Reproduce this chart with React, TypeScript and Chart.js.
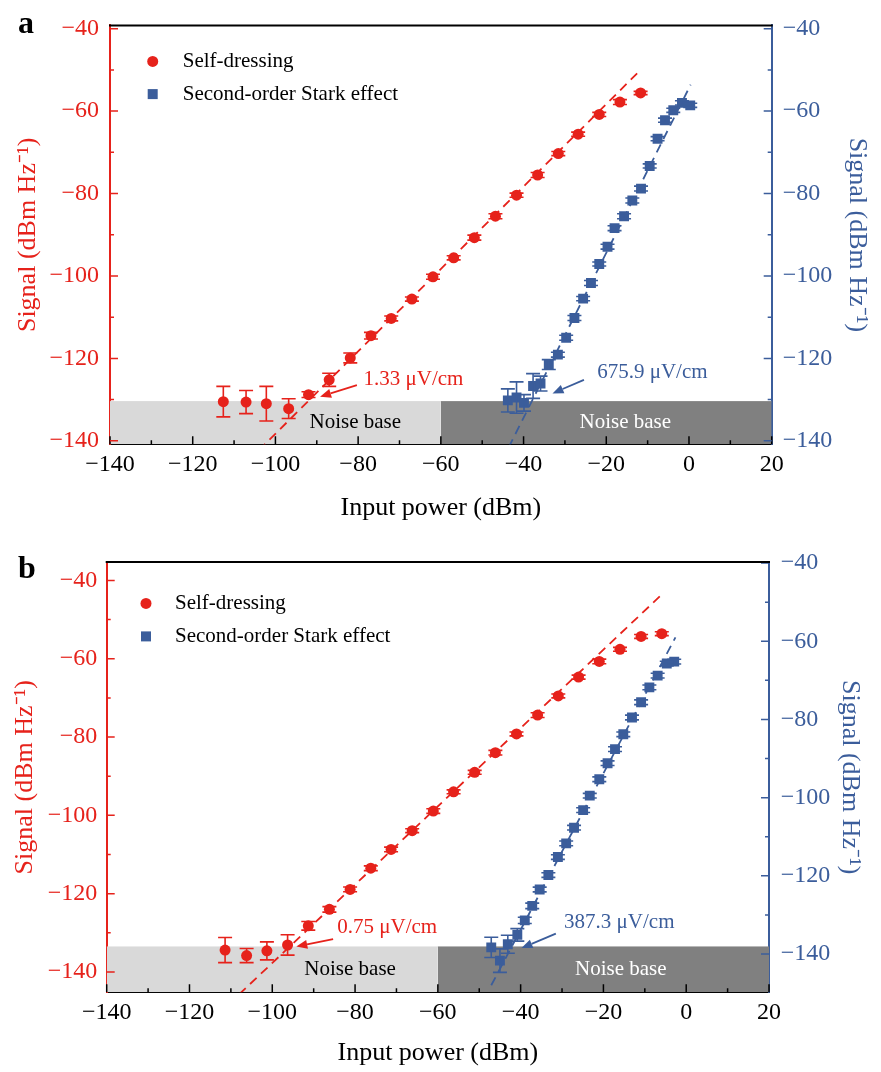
import { useEffect, useRef } from "react";
import { Chart, registerables } from "chart.js";

Chart.register(...registerables);

const RED = "#e6221b";
const BLUE = "#3b5d9b";
const LIGHT = "#d9d9d9";
const DARK = "#808080";
const SERIF = "'Liberation Serif', 'Times New Roman', Times, serif";

const SERIES_NAMES = ["Self-dressing", "Second-order Stark effect"];
const X_TITLE = "Input power (dBm)";
const Y_TITLE = "Signal (dBm Hz\u207B\u00B9)";
const NOISE_LABEL = "Noise base";

const X_TICKS = [-140, -120, -100, -80, -60, -40, -20, 0, 20];
const X_MINOR = [-130, -110, -90, -70, -50, -30, -10, 10];
const Y_TICKS = [-140, -120, -100, -80, -60, -40];
const Y_MINOR = [-130, -110, -90, -70, -50];
const NOISE_EDGES = [-140, -60, 20];

// ---------- Panel a ----------
const A_SELF_X = [-112.6, -107.1, -102.2, -96.8, -92.0, -87.0, -81.9, -76.9, -72.0, -67.0, -61.9, -56.9, -51.9, -46.8, -41.7, -36.6, -31.6, -26.8, -21.7, -16.7, -11.7];
const A_SELF_Y = [-130.5, -130.6, -131.0, -132.2, -128.8, -125.2, -119.9, -114.5, -110.3, -105.6, -100.2, -95.6, -90.7, -85.5, -80.4, -75.5, -70.3, -65.6, -60.8, -57.8, -55.6];
const A_SELF_ERR = [3.7, 2.8, 4.2, 2.4, 0.7, 1.6, 1.2, 0.8, 0.6, 0.5, 0.6, 0.5, 0.6, 0.6, 0.5, 0.6, 0.5, 0.5, 0.5, 0.6, 0.4];
const A_STARK_X = [-43.8, -41.7, -39.9, -37.7, -35.9, -33.9, -31.7, -29.7, -27.7, -25.6, -23.7, -21.7, -19.7, -18.0, -15.7, -13.7, -11.6, -9.5, -7.6, -5.8, -3.8, -1.7, 0.3];
const A_STARK_Y = [-130.2, -129.5, -130.8, -126.7, -126.1, -121.5, -119.1, -115.0, -110.2, -105.5, -101.7, -97.1, -92.9, -88.4, -85.5, -81.7, -78.8, -73.3, -66.7, -62.2, -59.8, -58.0, -58.6];
const A_STARK_ERR = [2.8, 3.8, 2.0, 3.0, 1.8, 1.2, 0.6, 0.6, 0.6, 0.5, 0.6, 0.5, 0.6, 0.6, 0.6, 0.6, 0.6, 0.5, 0.5, 0.5, 0.5, 0.5, 0.5];
const A_SELF_FIT_X = [-104.0, -11.7];
const A_SELF_FIT_Y = [-142.3, -50.0];
const A_STARK_FIT_X = [-43.6, 0.4];
const A_STARK_FIT_Y = [-141.6, -53.6];
const A_NOISE = -130.5;

// ---------- Panel b ----------
const B_SELF_X = [-111.4, -106.2, -101.3, -96.3, -91.3, -86.2, -81.2, -76.2, -71.3, -66.2, -61.1, -56.2, -51.1, -46.1, -41.0, -35.9, -30.9, -26.0, -21.0, -16.0, -10.9, -5.9];
const B_SELF_Y = [-134.4, -135.8, -134.6, -133.1, -128.2, -124.0, -118.9, -113.5, -108.7, -103.9, -98.9, -94.0, -89.0, -84.0, -79.2, -74.4, -69.5, -64.7, -60.7, -57.6, -54.3, -53.6];
const B_SELF_ERR = [3.2, 1.8, 2.3, 2.6, 1.1, 0.7, 0.6, 0.6, 0.6, 0.5, 0.6, 0.5, 0.5, 0.6, 0.5, 0.6, 0.5, 0.5, 0.6, 0.5, 0.5, 0.5];
const B_STARK_X = [-47.1, -45.0, -43.1, -40.8, -39.0, -37.2, -35.4, -33.3, -31.0, -29.0, -27.1, -24.9, -23.3, -21.0, -19.0, -17.2, -15.2, -13.1, -10.9, -8.9, -6.9, -4.7, -2.9];
const B_STARK_Y = [-138.3, -141.7, -137.5, -135.1, -131.4, -127.7, -123.5, -119.8, -115.2, -111.7, -107.7, -103.2, -99.5, -95.3, -91.2, -87.6, -83.8, -79.5, -75.6, -71.8, -68.8, -65.7, -65.2];
const B_STARK_ERR = [2.6, 3.0, 2.3, 1.6, 0.8, 0.7, 0.6, 0.6, 0.6, 0.6, 0.6, 0.6, 0.6, 0.6, 0.6, 0.6, 0.6, 0.6, 0.6, 0.6, 0.6, 0.6, 0.6];
const B_SELF_FIT_X = [-108.0, -5.9];
const B_SELF_FIT_Y = [-145.7, -43.6];
const B_STARK_FIT_X = [-47.1, -2.6];
const B_STARK_FIT_Y = [-148.0, -59.0];
const B_NOISE = -133.6;

type Note = { text: string; color: string; tx: number; ty: number; ax: number; ay: number; hx: number; hy: number };

type Panel = {
  letter: string;
  height: number;
  top: number; leftW: number; rightW: number; bottomH: number;
  yLeft: [number, number]; yRight: [number, number];
  selfX: number[]; selfY: number[]; selfErr: number[];
  starkX: number[]; starkY: number[]; starkErr: number[];
  selfFitX: number[]; selfFitY: number[]; starkFitX: number[]; starkFitY: number[];
  noise: number; noiseTextX: [number, number];
  legendDX: number; legendDY: number; legendGap: number; legendTextDX: number;
  leftTitlePad: number; rightTitlePad: number; xTitlePad: number;
  leftTickPad: number; rightTickPad: number; xTickPad: number;
  letterX: number; letterY: number;
  notes: Note[];
};

const PANELS: Panel[] = [
  {
    letter: "a", height: 536,
    top: 17.3, leftW: 110, rightW: 109.3, bottomH: 91.7,
    yLeft: [-140.85, -39.2], yRight: [-140.85, -39.2],
    selfX: A_SELF_X, selfY: A_SELF_Y, selfErr: A_SELF_ERR,
    starkX: A_STARK_X, starkY: A_STARK_Y, starkErr: A_STARK_ERR,
    selfFitX: A_SELF_FIT_X, selfFitY: A_SELF_FIT_Y, starkFitX: A_STARK_FIT_X, starkFitY: A_STARK_FIT_Y,
    noise: A_NOISE, noiseTextX: [-80.7, -15.4],
    legendDX: 42.7, legendDY: 36, legendGap: 32.7, legendTextDX: 30,
    leftTitlePad: 12.4, rightTitlePad: 8.7, xTitlePad: 12.4,
    leftTickPad: 11, rightTickPad: 11, xTickPad: 6.3,
    letterX: 26, letterY: 25,
    notes: [
      { text: "1.33 \u03BCV/cm", color: RED, tx: -78.7, ty: -125.2, ax: -80.3, ay: -126.5, hx: -89.2, hy: -129.3 },
      { text: "675.9 \u03BCV/cm", color: BLUE, tx: -22.2, ty: -123.5, ax: -25.4, ay: -125.2, hx: -33.0, hy: -128.5 },
    ],
  },
  {
    letter: "b", height: 536,
    top: 25.7, leftW: 106.7, rightW: 112, bottomH: 79.7,
    yLeft: [-145.18, -35.33], yRight: [-149.8, -39.75],
    selfX: B_SELF_X, selfY: B_SELF_Y, selfErr: B_SELF_ERR,
    starkX: B_STARK_X, starkY: B_STARK_Y, starkErr: B_STARK_ERR,
    selfFitX: B_SELF_FIT_X, selfFitY: B_SELF_FIT_Y, starkFitX: B_STARK_FIT_X, starkFitY: B_STARK_FIT_Y,
    noise: B_NOISE, noiseTextX: [-81.2, -15.8],
    legendDX: 39.3, legendDY: 41.3, legendGap: 33, legendTextDX: 29,
    leftTitlePad: 9.4, rightTitlePad: 15.4, xTitlePad: 3.4,
    leftTickPad: 9.4, rightTickPad: 11.7, xTickPad: 6.3,
    letterX: 27, letterY: 34,
    notes: [
      { text: "0.75 \u03BCV/cm", color: RED, tx: -84.3, ty: -128.7, ax: -85.3, ay: -131.6, hx: -94.2, hy: -133.5 },
      { text: "387.3 \u03BCV/cm", color: BLUE, tx: -29.5, ty: -127.4, ax: -31.5, ay: -130.2, hx: -39.8, hy: -133.9 },
    ],
  },
];

const fmt = (v: number) => (v < 0 ? "\u2212" + Math.abs(v) : String(v));
const pts = (xs: number[], ys: number[]) => xs.map((x, i) => ({ x, y: ys[i] }));

function makeChart(canvas: HTMLCanvasElement, p: Panel) {
  const deco = {
    id: "deco",
    afterDatasetsDraw(chart: any) {
      const ctx = chart.ctx as CanvasRenderingContext2D;
      const xs = chart.scales.x;
      const drawErr = (X: number[], Y: number[], E: number[], axisId: string, color: string) => {
        const ys = chart.scales[axisId];
        ctx.save();
        ctx.strokeStyle = color;
        ctx.lineWidth = 1.6;
        for (let i = 0; i < X.length; i++) {
          const px = xs.getPixelForValue(X[i]);
          const p1 = ys.getPixelForValue(Y[i] - E[i]);
          const p2 = ys.getPixelForValue(Y[i] + E[i]);
          ctx.beginPath();
          ctx.moveTo(px, p1); ctx.lineTo(px, p2);
          ctx.moveTo(px - 7, p1); ctx.lineTo(px + 7, p1);
          ctx.moveTo(px - 7, p2); ctx.lineTo(px + 7, p2);
          ctx.stroke();
        }
        ctx.restore();
      };
      drawErr(p.selfX, p.selfY, p.selfErr, "y", RED);
      drawErr(p.starkX, p.starkY, p.starkErr, "y2", BLUE);
    },
    afterDraw(chart: any) {
      const ctx = chart.ctx as CanvasRenderingContext2D;
      const { left, right, top, bottom } = chart.chartArea;
      const xs = chart.scales.x;
      const yl = chart.scales.y;
      const yr = chart.scales.y2;
      ctx.save();
      // Noise base labels
      const ny = (yl.getPixelForValue(p.noise) + bottom) / 2;
      ctx.font = `21px ${SERIF}`;
      ctx.textAlign = "center";
      ctx.textBaseline = "middle";
      ctx.fillStyle = "#000";
      ctx.fillText(NOISE_LABEL, xs.getPixelForValue(p.noiseTextX[0]), ny);
      ctx.fillStyle = "#fff";
      ctx.fillText(NOISE_LABEL, xs.getPixelForValue(p.noiseTextX[1]), ny);

      // Inward ticks
      ctx.lineWidth = 1.5;
      ctx.strokeStyle = "#000";
      ctx.beginPath();
      X_TICKS.forEach((v) => { const x = xs.getPixelForValue(v); ctx.moveTo(x, bottom); ctx.lineTo(x, bottom - 8); });
      X_MINOR.forEach((v) => { const x = xs.getPixelForValue(v); ctx.moveTo(x, bottom); ctx.lineTo(x, bottom - 4); });
      ctx.stroke();
      const inRange = (s: any, v: number) => v >= s.min && v <= s.max;
      ctx.strokeStyle = RED;
      ctx.beginPath();
      Y_TICKS.filter((v) => inRange(yl, v)).forEach((v) => { const y = yl.getPixelForValue(v); ctx.moveTo(left, y); ctx.lineTo(left + 8, y); });
      Y_MINOR.filter((v) => inRange(yl, v)).forEach((v) => { const y = yl.getPixelForValue(v); ctx.moveTo(left, y); ctx.lineTo(left + 4, y); });
      ctx.stroke();
      ctx.strokeStyle = BLUE;
      ctx.beginPath();
      Y_TICKS.filter((v) => inRange(yr, v)).forEach((v) => { const y = yr.getPixelForValue(v); ctx.moveTo(right, y); ctx.lineTo(right - 8, y); });
      Y_MINOR.filter((v) => inRange(yr, v)).forEach((v) => { const y = yr.getPixelForValue(v); ctx.moveTo(right, y); ctx.lineTo(right - 4, y); });
      ctx.stroke();

      // Top frame
      ctx.strokeStyle = "#000";
      ctx.lineWidth = 2;
      ctx.beginPath();
      ctx.moveTo(left - 1, top);
      ctx.lineTo(right + 1, top);
      ctx.stroke();

      // Legend
      const lx = left + p.legendDX;
      const ly = top + p.legendDY;
      ctx.fillStyle = RED;
      ctx.beginPath();
      ctx.arc(lx, ly, 5.5, 0, Math.PI * 2);
      ctx.fill();
      ctx.fillStyle = BLUE;
      ctx.fillRect(lx - 5, ly + p.legendGap - 5, 10, 10);
      ctx.fillStyle = "#000";
      ctx.font = `21px ${SERIF}`;
      ctx.textAlign = "left";
      ctx.textBaseline = "middle";
      ctx.fillText(SERIES_NAMES[0], lx + p.legendTextDX, ly);
      ctx.fillText(SERIES_NAMES[1], lx + p.legendTextDX, ly + p.legendGap);

      // Annotations with arrows
      p.notes.forEach((n) => {
        ctx.fillStyle = n.color;
        ctx.strokeStyle = n.color;
        ctx.font = `21px ${SERIF}`;
        ctx.textAlign = "left";
        ctx.textBaseline = "middle";
        ctx.fillText(n.text, xs.getPixelForValue(n.tx), yl.getPixelForValue(n.ty));
        const x1 = xs.getPixelForValue(n.ax), y1 = yl.getPixelForValue(n.ay);
        const x2 = xs.getPixelForValue(n.hx), y2 = yl.getPixelForValue(n.hy);
        const ang = Math.atan2(y2 - y1, x2 - x1);
        const hl = 11, hw = 4.5;
        const bx = x2 - hl * Math.cos(ang), by = y2 - hl * Math.sin(ang);
        ctx.lineWidth = 1.8;
        ctx.beginPath();
        ctx.moveTo(x1, y1);
        ctx.lineTo(bx, by);
        ctx.stroke();
        ctx.beginPath();
        ctx.moveTo(x2, y2);
        ctx.lineTo(bx + hw * Math.sin(ang), by - hw * Math.cos(ang));
        ctx.lineTo(bx - hw * Math.sin(ang), by + hw * Math.cos(ang));
        ctx.closePath();
        ctx.fill();
      });

      // Panel letter
      ctx.fillStyle = "#000";
      ctx.font = `bold 32px ${SERIF}`;
      ctx.textAlign = "center";
      ctx.textBaseline = "middle";
      ctx.fillText(p.letter, p.letterX, p.letterY);
      ctx.restore();
    },
  };

  const tickFont = { family: SERIF, size: 24, lineHeight: 1.2 };
  const titleFont = { family: SERIF, size: 26, lineHeight: 1.2 };

  return new Chart(canvas, {
    type: "line",
    data: {
      datasets: [
        {
          label: SERIES_NAMES[0], data: pts(p.selfX, p.selfY), yAxisID: "y",
          showLine: false, pointStyle: "circle", pointRadius: 5.5, pointBorderWidth: 0,
          backgroundColor: RED, borderColor: RED, order: 0,
        },
        {
          label: SERIES_NAMES[1], data: pts(p.starkX, p.starkY), yAxisID: "y2",
          showLine: false, pointStyle: "rect", pointRadius: 7, pointBorderWidth: 0,
          backgroundColor: BLUE, borderColor: BLUE, order: 0,
        },
        {
          label: "fit-self", data: pts(p.selfFitX, p.selfFitY), yAxisID: "y",
          borderColor: RED, borderWidth: 1.8, borderDash: [9, 6], pointRadius: 0, fill: false, order: 2,
        },
        {
          label: "fit-stark", data: pts(p.starkFitX, p.starkFitY), yAxisID: "y2",
          borderColor: BLUE, borderWidth: 1.8, borderDash: [9, 6], pointRadius: 0, fill: false, order: 2,
        },
        {
          label: "noise-light", data: pts(NOISE_EDGES.slice(0, 2), [p.noise, p.noise]), yAxisID: "y",
          borderColor: LIGHT, backgroundColor: LIGHT, borderWidth: 1, pointRadius: 0, fill: "start", order: 5,
        },
        {
          label: "noise-dark", data: pts(NOISE_EDGES.slice(1, 3), [p.noise, p.noise]), yAxisID: "y",
          borderColor: DARK, backgroundColor: DARK, borderWidth: 1, pointRadius: 0, fill: "start", order: 5,
        },
      ],
    },
    options: {
      animation: false,
      responsive: false,
      devicePixelRatio: 1,
      events: [],
      layout: { padding: { top: p.top, left: 0, right: 0, bottom: 0 } },
      plugins: { legend: { display: false }, tooltip: { enabled: false } },
      scales: {
        x: {
          type: "linear", position: "bottom", min: -140, max: 20, z: 1,
          afterBuildTicks: (s: any) => { s.ticks = X_TICKS.map((v) => ({ value: v })); },
          afterFit: (s: any) => { s.height = p.bottomH; },
          grid: { display: false, drawTicks: false },
          border: { display: true, color: "#000", width: 2 },
          ticks: { color: "#000", font: tickFont, padding: p.xTickPad, maxRotation: 0, autoSkip: false, callback: (v: any) => fmt(Number(v)) },
          title: { display: true, text: X_TITLE, color: "#000", font: titleFont, padding: { top: 0, bottom: p.xTitlePad } },
        },
        y: {
          type: "linear", position: "left", min: p.yLeft[0], max: p.yLeft[1], z: 1,
          afterBuildTicks: (s: any) => { s.ticks = Y_TICKS.map((v) => ({ value: v })); },
          afterFit: (s: any) => { s.width = p.leftW; },
          grid: { display: false, drawTicks: false },
          border: { display: true, color: RED, width: 2 },
          ticks: { color: RED, font: tickFont, padding: p.leftTickPad, autoSkip: false, callback: (v: any) => fmt(Number(v)) },
          title: { display: true, text: Y_TITLE, color: RED, font: titleFont, padding: { top: p.leftTitlePad, bottom: 0 } },
        },
        y2: {
          type: "linear", position: "right", min: p.yRight[0], max: p.yRight[1], z: 1,
          afterBuildTicks: (s: any) => { s.ticks = Y_TICKS.map((v) => ({ value: v })); },
          afterFit: (s: any) => { s.width = p.rightW; },
          grid: { display: false, drawTicks: false },
          border: { display: true, color: BLUE, width: 2 },
          ticks: { color: BLUE, font: tickFont, padding: p.rightTickPad, autoSkip: false, callback: (v: any) => fmt(Number(v)) },
          title: { display: true, text: Y_TITLE, color: BLUE, font: titleFont, padding: { top: p.rightTitlePad, bottom: 0 } },
        },
      },
    } as any,
    plugins: [deco as any],
  });
}

function PanelChart({ p }: { p: Panel }) {
  const ref = useRef<HTMLCanvasElement>(null);
  useEffect(() => {
    const chart = makeChart(ref.current!, p);
    return () => chart.destroy();
  }, [p]);
  return (
    <canvas ref={ref} width={881} height={p.height} style={{ display: "block", width: 881, height: p.height }} />
  );
}

export default function App() {
  return (
    <div style={{ position: "absolute", left: 0, top: 0, width: 881, height: 1072, background: "#fff" }}>
      {PANELS.map((p) => (
        <PanelChart key={p.letter} p={p} />
      ))}
    </div>
  );
}
